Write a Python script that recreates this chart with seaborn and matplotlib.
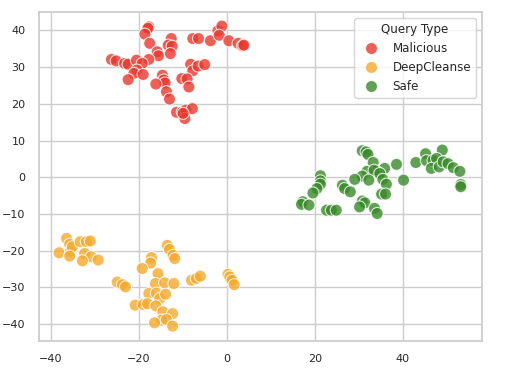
import numpy as np
import pandas as pd
import seaborn as sns
import matplotlib.pyplot as plt

# t-SNE style embedding
mal_x = [-17.7, -17.9, -18.6, -17.5, -12.6, -13.3, -12.4, -12.8, -15.8, -15.5,
         -17.7, -26.2, -25.1, -23.2, -22.4, -20.5, -19.2, -20.4, -21.1, -19.0,
         -22.4, -7.7, -6.4, -3.7, -2.0, -1.1, -1.7, 0.5, 2.6, 3.6,
         3.9, -8.2, -7.7, -6.5, -5.0, -10.2, -9.0, -8.6, -14.6, -14.3,
         -14.0, -16.1, -13.7, -13.0, -11.4, -10.1, -9.3, -7.8, -9.5, -9.9]
mal_y = [41.0, 40.6, 39.0, 36.5, 37.8, 36.0, 35.7, 33.7, 34.2, 33.1,
         32.1, 32.1, 31.7, 31.0, 30.8, 31.9, 31.0, 29.2, 28.3, 28.0,
         26.6, 37.8, 37.8, 37.2, 39.9, 41.2, 38.7, 37.2, 36.5, 35.8,
         36.0, 30.8, 29.0, 30.3, 30.7, 26.9, 26.8, 24.6, 27.8, 26.5,
         25.7, 25.4, 23.3, 21.3, 17.7, 17.8, 18.3, 18.7, 16.0, 17.4]

deep_x = [-36.4, -35.7, -38.1, -35.5, -35.1, -35.7, -33.3, -31.9, -31.0, -32.3,
          -30.8, -32.8, -29.2, -24.9, -23.7, -23.0, -13.5, -13.0, -12.2, -11.8,
          -17.1, -17.3, -19.2, -15.6, -16.2, -14.1, -12.0, -17.7, -16.0, -15.2,
          -13.9, -20.8, -19.0, -18.0, -16.1, -14.5, -12.3, -14.8, -16.4, -13.7,
          -12.3, -8.0, -6.9, -6.0, 0.3, 0.7, 1.2, 1.7]
deep_y = [-16.7, -18.3, -20.6, -20.2, -19.0, -21.5, -17.6, -17.6, -17.4, -20.8,
          -21.7, -22.8, -22.6, -28.6, -29.3, -29.9, -18.6, -19.7, -21.3, -22.2,
          -21.9, -23.4, -24.9, -26.3, -29.0, -28.8, -29.0, -31.7, -31.6, -33.1,
          -31.9, -34.9, -34.7, -34.5, -35.1, -36.7, -37.2, -39.0, -39.7, -38.8,
          -40.6, -28.1, -27.6, -27.0, -26.5, -27.2, -28.1, -29.3]

safe_x = [30.8, 31.7, 32.1, 33.3, 35.9, 38.6, 34.0, 31.9, 33.5, 34.8,
          30.8, 29.1, 32.3, 35.5, 36.3, 40.2, 26.3, 26.8, 28.1, 35.2,
          36.1, 30.8, 31.4, 30.2, 33.6, 34.2, 22.7, 23.8, 24.9, 21.3,
          21.3, 21.3, 20.5, 19.6, 17.3, 17.0, 18.7, 43.0, 45.2, 49.0,
          45.4, 46.9, 47.7, 46.5, 48.3, 49.2, 50.3, 51.5, 53.0, 53.2, 53.2]
safe_y = [7.2, 6.9, 6.2, 4.0, 2.4, 3.5, 1.6, 1.6, 1.9, 1.0,
          0.3, -0.6, -0.8, -0.6, -1.9, -0.8, -2.2, -3.1, -4.0, -4.6,
          -4.6, -6.5, -7.0, -8.1, -8.5, -9.9, -9.0, -9.0, -9.0, 0.4,
          -1.0, -1.9, -3.1, -4.3, -6.7, -7.4, -7.6, 4.0, 6.4, 7.4,
          4.5, 4.6, 5.1, 2.4, 2.8, 4.2, 3.7, 2.6, 1.6, -2.0, -2.6]

labels = ["Malicious", "DeepCleanse", "Safe"]
colors = ["#e8382e", "#f4a92c", "#3a8a2a"]

df = pd.concat([
    pd.DataFrame({"x": mal_x, "y": mal_y, "Query Type": labels[0]}),
    pd.DataFrame({"x": deep_x, "y": deep_y, "Query Type": labels[1]}),
    pd.DataFrame({"x": safe_x, "y": safe_y, "Query Type": labels[2]}),
])

sns.set_theme(style="whitegrid")
fig, ax = plt.subplots(figsize=(5.11, 3.68), dpi=100)
sns.scatterplot(data=df, x="x", y="y", hue="Query Type", hue_order=labels,
                palette=colors, s=75, alpha=0.8, edgecolor="white",
                linewidth=0.8, ax=ax)
ax.set_xlim(-42.7, 58)
ax.set_ylim(-44.7, 45)
ax.set_xlabel("")
ax.set_ylabel("")
ax.tick_params(labelsize=8)
leg = ax.legend(title="Query Type", loc="upper right", fontsize=8.6,
                title_fontsize=8.6)
fig.subplots_adjust(left=0.076, right=0.943, top=0.967, bottom=0.073)
fig.savefig("out.png", dpi=100)
